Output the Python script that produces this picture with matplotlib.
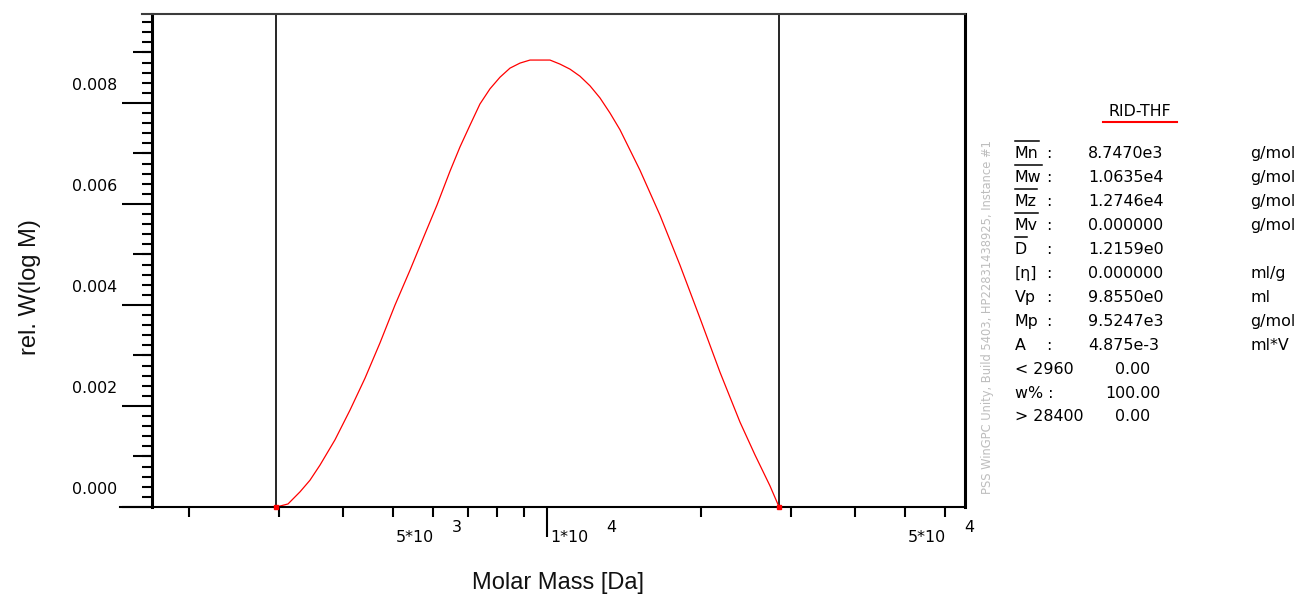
import numpy as np
import matplotlib
matplotlib.use("Agg")
import matplotlib.pyplot as plt
from matplotlib.lines import Line2D
from matplotlib.ticker import (LogLocator, MultipleLocator, NullFormatter,
                               NullLocator)
from matplotlib.transforms import blended_transform_factory, ScaledTranslation

# ---- molar mass distribution (RI detector, THF) ----
molar_mass = [2960, 3120, 3293, 3444, 3603, 3854, 4124, 4411, 4719, 5049,
              5401, 5778, 6098, 6465, 6762, 7073, 7397, 7738, 8094, 8467,
              8857, 9265, 9690, 10136, 10602, 11090, 11600, 12134, 12692,
              13278, 13886, 15190, 16620, 18185, 19897, 21770, 23823, 25487,
              27256, 28400]
rel_w = [0.0, 0.00006, 0.00030, 0.00053, 0.00083, 0.00133, 0.00192, 0.00255,
         0.00325, 0.00400, 0.00469, 0.00541, 0.00598, 0.00665, 0.00713,
         0.00756, 0.00798, 0.00828, 0.00851, 0.00869, 0.00879, 0.00885,
         0.00885, 0.00885, 0.00877, 0.00867, 0.00853, 0.00834, 0.00810,
         0.00780, 0.00747, 0.00667, 0.00578, 0.00479, 0.00374, 0.00267,
         0.00168, 0.00103, 0.00042, 0.0]

# integration limits
mass_limits = [2960, 28400]

# labelled molar mass ticks, written as mantissa*10^exponent
x_label_values = [5000, 10000, 50000]
x_label_mantissa = ["5*10", "1*10", "5*10"]
x_label_exponent = ["3", "4", "4"]

y_label_values = [0.000, 0.002, 0.004, 0.006, 0.008]
y_label_texts = ["0.000", "0.002", "0.004", "0.006", "0.008"]

# ---- result table ----
detector = "RID-THF"
result_names = ["Mn", "Mw", "Mz", "Mv", "D", "[η]", "Vp", "Mp", "A"]
result_overlined = [True, True, True, True, True, False, False, False, False]
result_values = ["8.7470e3", "1.0635e4", "1.2746e4", "0.000000", "1.2159e0",
                 "0.000000", "9.8550e0", "9.5247e3", "4.875e-3"]
result_units = ["g/mol", "g/mol", "g/mol", "g/mol", "", "ml/g", "ml",
                "g/mol", "ml*V"]
fraction_names = ["< 2960", "w% :", "> 28400"]
fraction_values = ["0.00", "100.00", "0.00"]

footer = "PSS WinGPC Unity, Build 5403, HP22831438925, Instance #1"

# ---- figure ----
W_PX, H_PX = 1304, 600
fig = plt.figure(figsize=(W_PX / 100, H_PX / 100), dpi=100)


def fx(px):
    return px / W_PX


def fy(py):
    return 1 - py / H_PX


SMALL = dict(family="DejaVu Sans", fontsize=11.4, color="black")
LARGE = dict(family="Liberation Sans", fontsize=17, color="#111111")

ax = fig.add_axes([fx(152), fy(507), fx(965) - fx(152), fy(14) - fy(507)])
ax.set_xscale("log")
ax.set_xlim(1692.5, 65530)
ax.set_ylim(0, 0.009762)

# frame
ax.spines["top"].set_visible(False)
ax.spines["bottom"].set_visible(False)
ax.spines["left"].set_linewidth(2.2)
ax.spines["right"].set_linewidth(2.2)
ax_w_px = 965 - 152
ax.add_line(Line2D([-32 / ax_w_px, 1], [0, 0], transform=ax.transAxes,
                   color="black", lw=1.5, clip_on=False, zorder=5))
ax.add_line(Line2D([-10 / ax_w_px, 1], [1, 1], transform=ax.transAxes,
                   color="#3c3c3c", lw=1.5, clip_on=False, zorder=5))

# y axis: long ticks every 0.002, short ticks every 0.0002
ax.set_yticks(y_label_values, y_label_texts)
ax.yaxis.set_minor_locator(MultipleLocator(0.0002))
ax.tick_params(axis="y", which="major", length=21.6, width=1.5, pad=3.6,
               labelsize=SMALL["fontsize"])
ax.tick_params(axis="y", which="minor", length=7.2, width=1.5)
for lab in ax.get_yticklabels():
    lab.set_family(SMALL["family"])
shift_up = ScaledTranslation(0, 0.19, fig.dpi_scale_trans)
for tick in ax.yaxis.get_major_ticks():
    tick.label1.set_transform(tick.label1.get_transform() + shift_up)

# medium ticks at odd thousandths
mid = ax.secondary_yaxis("left")
mid.yaxis.set_major_locator(MultipleLocator(0.002, offset=0.001))
mid.yaxis.set_minor_locator(NullLocator())
mid.tick_params(axis="y", length=13.7, width=1.5, labelleft=False)
mid.spines["left"].set_visible(False)

# x axis: decade tick long, intermediate ticks short
ax.xaxis.set_major_locator(LogLocator(base=10, subs=(1.0,)))
ax.xaxis.set_minor_locator(LogLocator(base=10, subs=np.arange(2, 10)))
ax.xaxis.set_major_formatter(NullFormatter())
ax.xaxis.set_minor_formatter(NullFormatter())
ax.tick_params(axis="x", which="major", length=21.6, width=1.5)
ax.tick_params(axis="x", which="minor", length=7.2, width=1.5)

xtrans = blended_transform_factory(ax.transData, ax.transAxes)
for val, man, exp in zip(x_label_values, x_label_mantissa, x_label_exponent):
    ax.text(val, 0, man, ha="left", va="center", **SMALL,
            transform=xtrans + ScaledTranslation(0.03, -0.31, fig.dpi_scale_trans))
    ax.text(val, 0, exp, ha="left", va="center", **SMALL,
            transform=xtrans + ScaledTranslation(0.59, -0.20, fig.dpi_scale_trans))

# integration limits and distribution curve
for lim in mass_limits:
    ax.axvline(lim, color="black", lw=1.2, zorder=2)
ax.plot(molar_mass, rel_w, color="#ff0000", lw=0.9, zorder=3, clip_on=False)
ax.plot([molar_mass[0], molar_mass[-1]], [rel_w[0], rel_w[-1]], "s",
        color="#ff0000", ms=3.2, zorder=6, clip_on=False)

# axis titles
fig.text(fx(558), fy(583), "Molar Mass [Da]", ha="center", va="center", **LARGE)
fig.text(fx(30), fy(287), "rel. W(log M)", ha="center", va="center",
         rotation=90, **LARGE)

# vertical footer
fig.text(fx(987), fy(317), footer, ha="center", va="center", rotation=90,
         family="DejaVu Sans", fontsize=8.3, color="#bdbdbd")

# result table
fig.text(fx(1140), fy(111), detector, ha="center", va="center", **SMALL)
fig.add_artist(Line2D([fx(1103), fx(1177)], [fy(122), fy(122)],
                      color="#ff0000", lw=1.5))

renderer = fig.canvas.get_renderer()
row0, row_step = 154, 23.9
for i, (name, over, val, unit) in enumerate(zip(result_names, result_overlined,
                                                result_values, result_units)):
    yc = row0 + i * row_step
    t = fig.text(fx(1015), fy(yc), name, ha="left", va="center", **SMALL)
    fig.text(fx(1046), fy(yc), ":", ha="left", va="center", **SMALL)
    fig.text(fx(1088), fy(yc), val, ha="left", va="center", **SMALL)
    if unit:
        fig.text(fx(1250), fy(yc), unit, ha="left", va="center", **SMALL)
    if over:
        bb = t.get_window_extent(renderer)
        fig.add_artist(Line2D([fx(bb.x0), fx(bb.x1)],
                              [fy(yc - 13), fy(yc - 13)],
                              color="black", lw=1.1))

for j, (name, val) in enumerate(zip(fraction_names, fraction_values)):
    yc = row0 + (len(result_names) + j) * row_step
    fig.text(fx(1015), fy(yc), name, ha="left", va="center", **SMALL)
    fig.text(fx(1133), fy(yc), val, ha="center", va="center", **SMALL)

fig.savefig("out.png", dpi=100)
